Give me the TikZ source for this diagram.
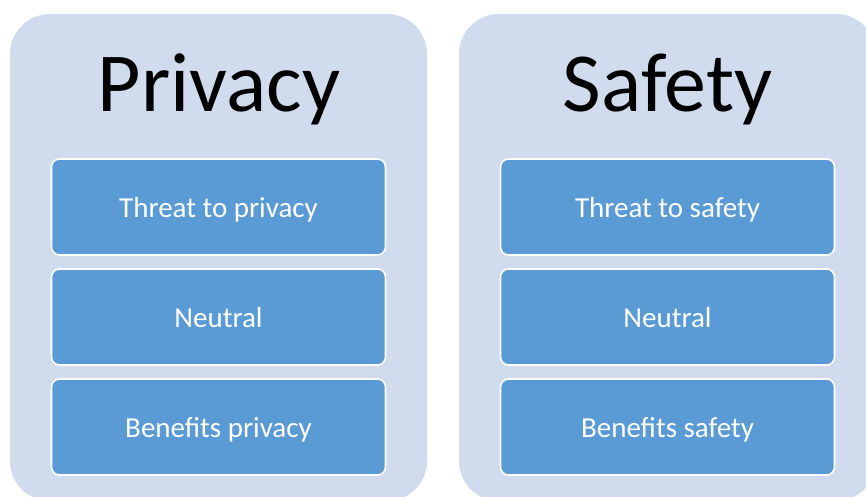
\documentclass[tikz,border=0pt]{standalone}
\usepackage{fontspec}
\setmainfont{Carlito}
\usepackage{xcolor}
\definecolor{panelfill}{RGB}{208,220,238}
\definecolor{itemfill}{RGB}{91,155,213}

\begin{document}
\begin{tikzpicture}[x=1pt,y=-1pt]
  \tikzset{panel/.style={rectangle,rounded corners=40pt,fill=panelfill,draw=none,minimum width=417pt,minimum height=487pt,inner sep=0pt}}
  \tikzset{paneltitle/.style={anchor=base,font=\fontsize{84}{90}\selectfont,text=black,inner sep=0pt}}
  \tikzset{item/.style={rectangle,rounded corners=8pt,fill=itemfill,draw=white,line width=1.6pt,minimum width=334pt,minimum height=96pt,inner sep=0pt,font=\fontsize{29}{32}\selectfont,text=white,text height=20pt,text depth=0pt}}
  \useasboundingbox (0,0) rectangle (866,496);
  \clip (0,0) rectangle (866,496);
  % the two panels
  \node[panel] (privacy) at (218.5,257.5) {};
  \node[panel] (safety) at (667.5,257.5) {};
  \node[paneltitle] (privacytitle) at (219,111) {Privacy};
  \node[paneltitle] (safetytitle) at (667.5,111) {Safety};
  % privacy items
  \node[item] (pthreat) at (218.5,207) {Threat to privacy};
  \node[item] (pneutral) at (218.5,317) {Neutral};
  \node[item] (pbenefit) at (218.5,427) {Benefits privacy};
  % safety items
  \node[item] (sthreat) at (667.5,207) {Threat to safety};
  \node[item] (sneutral) at (667.5,317) {Neutral};
  \node[item] (sbenefit) at (667.5,427) {Benefits safety};
\end{tikzpicture}
\end{document}
